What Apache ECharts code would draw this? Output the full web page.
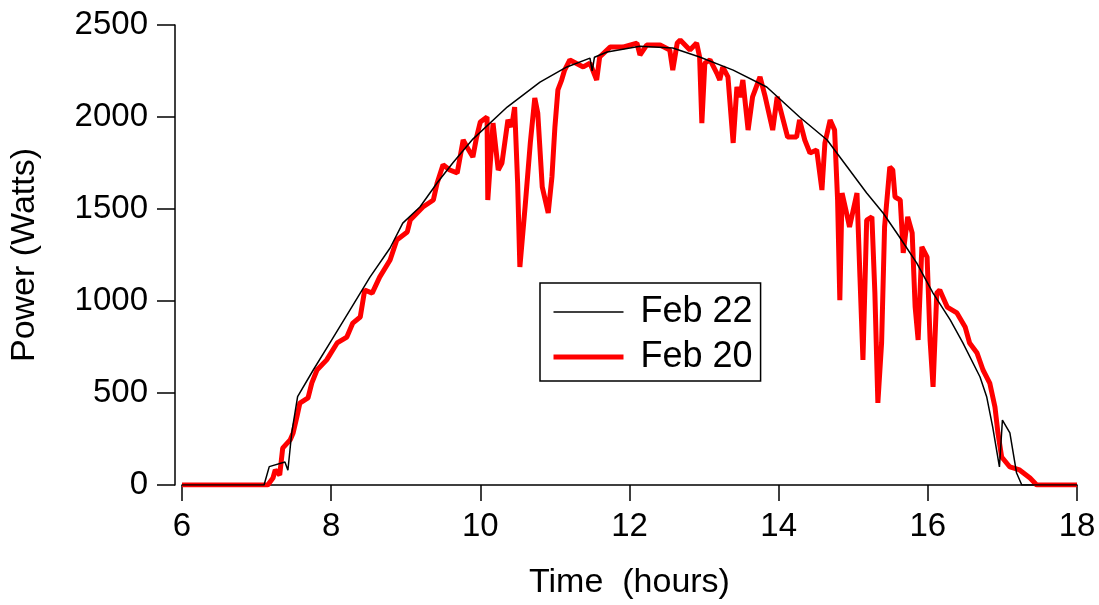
<!DOCTYPE html>
<html>
<head>
<meta charset="utf-8">
<script src="https://cdn.jsdelivr.net/npm/echarts@6/dist/echarts.min.js"></script>
<style>
  html, body { margin: 0; padding: 0; background: #fff; }
  #chart { width: 1099px; height: 605px; }
</style>
</head>
<body>
<div id="chart"></div>
<script>
// Feb 22 (black), [hour, watts]
var feb22 = [
  [6, 0], [7.1, 0], [7.17, 100], [7.38, 125], [7.42, 80], [7.47, 280], [7.55, 480],
  [7.76, 625], [8.01, 790], [8.28, 970], [8.52, 1130], [8.79, 1288], [8.96, 1423],
  [9.19, 1511], [9.42, 1641], [9.63, 1750], [9.9, 1880], [10.36, 2054], [10.8, 2190],
  [11.16, 2272], [11.47, 2320], [11.5, 2250], [11.53, 2325], [11.7, 2353], [12.14, 2385],
  [12.58, 2375], [12.94, 2326], [13.39, 2255], [13.84, 2163], [14.28, 2000], [14.65, 1875],
  [14.95, 1712], [15.18, 1587], [15.4, 1478], [15.62, 1348], [15.85, 1207], [16.07, 1043],
  [16.3, 897], [16.47, 772], [16.7, 587], [16.79, 478], [16.87, 315], [16.96, 98],
  [17.0, 353], [17.1, 283], [17.19, 65], [17.26, 0], [18, 0]
];

// Feb 20 (red), [hour, watts]
var feb20 = [
  [6.0, 0], [7.15, 0], [7.22, 38], [7.25, 82], [7.31, 54], [7.35, 200], [7.45, 245],
  [7.49, 283], [7.54, 370], [7.58, 445], [7.69, 473], [7.74, 554], [7.81, 625], [7.94, 680],
  [8.08, 772], [8.21, 804], [8.29, 880], [8.39, 913], [8.45, 1060], [8.55, 1043], [8.65, 1130],
  [8.79, 1223], [8.88, 1332], [9.02, 1375], [9.06, 1440], [9.23, 1511], [9.37, 1549],
  [9.42, 1640], [9.5, 1740], [9.59, 1712], [9.69, 1696], [9.77, 1875], [9.82, 1837],
  [9.9, 1783], [9.95, 1891], [10.0, 1973], [10.09, 2000], [10.1, 1549], [10.17, 1967],
  [10.24, 1712], [10.29, 1750], [10.37, 1984], [10.42, 1946], [10.46, 2054], [10.5, 1641],
  [10.53, 1185], [10.6, 1511], [10.67, 1859], [10.73, 2103], [10.77, 2022], [10.83, 1620],
  [10.91, 1478], [10.96, 1674], [11.0, 1946], [11.04, 2147], [11.09, 2201], [11.13, 2255],
  [11.2, 2310], [11.38, 2272], [11.47, 2293], [11.56, 2201], [11.6, 2326], [11.74, 2380],
  [11.91, 2380], [12.1, 2402], [12.14, 2337], [12.23, 2391], [12.41, 2391], [12.54, 2364],
  [12.58, 2255], [12.64, 2402], [12.68, 2418], [12.81, 2364], [12.9, 2402], [12.94, 2326],
  [12.97, 1967], [13.01, 2293], [13.08, 2310], [13.17, 2239], [13.21, 2201], [13.25, 2272],
  [13.32, 2218], [13.39, 1859], [13.44, 2163], [13.48, 2109], [13.52, 2201], [13.59, 1929],
  [13.65, 2109], [13.72, 2185], [13.75, 2218], [13.82, 2109], [13.92, 1929], [13.98, 2109],
  [14.06, 1984], [14.12, 1891], [14.24, 1891], [14.28, 1984], [14.35, 1875], [14.42, 1804],
  [14.51, 1821], [14.58, 1603], [14.62, 1859], [14.69, 1984], [14.75, 1929], [14.79, 1549],
  [14.82, 1005], [14.85, 1587], [14.91, 1478], [14.95, 1402], [15.05, 1587], [15.09, 1130],
  [15.13, 680], [15.18, 1440], [15.25, 1457], [15.29, 1043], [15.33, 446], [15.38, 772],
  [15.42, 1402], [15.49, 1728], [15.53, 1712], [15.56, 1565], [15.63, 1549], [15.67, 1261],
  [15.73, 1457], [15.79, 1370], [15.83, 967], [15.87, 788], [15.92, 1294], [15.99, 1239],
  [16.03, 788], [16.07, 533], [16.12, 1043], [16.16, 1060], [16.26, 967], [16.39, 935],
  [16.5, 859], [16.56, 772], [16.66, 717], [16.74, 625], [16.83, 554], [16.9, 424],
  [16.94, 283], [16.99, 152], [17.1, 98], [17.23, 82], [17.37, 38], [17.46, 0], [18.0, 0]
];

var chart = echarts.init(document.getElementById('chart'));
var font = 'Liberation Sans, Arial, sans-serif';
var option = {
  animation: false,
  backgroundColor: '#fff',
  grid: { left: 182, right: 22, top: 25, bottom: 120, outerBoundsMode: 'none', containLabel: false },
  legend: {
    orient: 'vertical',
    left: 540, top: 283,
    padding: [11, 8, 6, 11],
    itemWidth: 70, itemHeight: 20, itemGap: 9,
    borderColor: '#000', borderWidth: 1.5,
    data: [
      { name: 'Feb 22', itemStyle: { opacity: 0 }, lineStyle: { width: 1.5, color: '#000' } },
      { name: 'Feb 20', itemStyle: { opacity: 0 }, lineStyle: { width: 5, color: '#ff0000' } }
    ],
    textStyle: { fontFamily: font, fontSize: 36, color: '#000', padding: [0, 0, 0, 12] }
  },
  xAxis: {
    type: 'value', min: 6, max: 18, interval: 2,
    offset: 3,
    name: 'Time  (hours)', nameLocation: 'middle', nameGap: 78,
    nameTextStyle: { fontFamily: font, fontSize: 34, color: '#000' },
    axisLine: { lineStyle: { color: '#000', width: 1.5 } },
    axisTick: { length: 16, lineStyle: { color: '#000', width: 1.5 } },
    axisLabel: { fontFamily: font, fontSize: 33, color: '#000', margin: 22 },
    splitLine: { show: false }
  },
  yAxis: {
    type: 'value', min: 0, max: 2500, interval: 500,
    offset: 7,
    name: 'Power (Watts)', nameLocation: 'middle', nameGap: 133,
    nameTextStyle: { fontFamily: font, fontSize: 34, color: '#000' },
    axisLine: { show: true, lineStyle: { color: '#000', width: 1.5 } },
    axisTick: { show: true, length: 18, lineStyle: { color: '#000', width: 1.5 } },
    axisLabel: {
      fontFamily: font, fontSize: 33, color: '#000', margin: 27,
      formatter: function (v) { return String(v); }
    },
    splitLine: { show: false }
  },
  series: [
    {
      name: 'Feb 20', type: 'line', data: feb20,
      showSymbol: false, symbol: 'none',
      lineStyle: { color: '#ff0000', width: 5 },
      itemStyle: { color: '#ff0000' }
    },
    {
      name: 'Feb 22', type: 'line', data: feb22,
      showSymbol: false, symbol: 'none',
      lineStyle: { color: '#000', width: 1.5 },
      itemStyle: { color: '#000' }
    }
  ]
};
chart.setOption(option);
</script>
</body>
</html>
